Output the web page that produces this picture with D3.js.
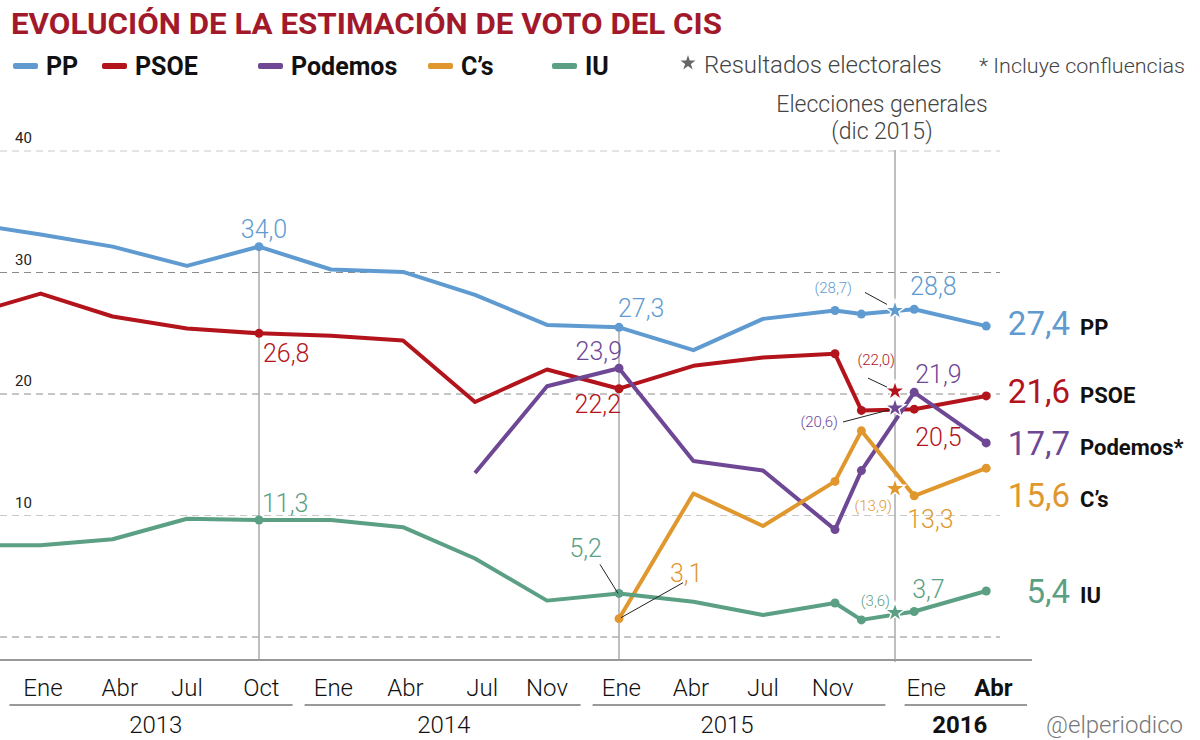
<!DOCTYPE html>
<html>
<head>
<meta charset="utf-8">
<script src="https://cdn.jsdelivr.net/npm/d3@7"></script>
<style>
  body { margin: 0; background: #fff; }
  svg { display: block; }
  text { font-family: Roboto, "Liberation Sans", Arial, sans-serif; }
</style>
</head>
<body>
<script>
// barómetros del CIS (mes contado desde enero 2013)
var periods = ["Oct 2012","Ene 2013","Abr 2013","Jul 2013","Oct 2013","Ene 2014","Abr 2014","Jul 2014",
               "Oct 2014","Ene 2015","Abr 2015","Jul 2015","Oct 2015","Nov 2015","Ene 2016","Abr 2016"];
var months  = [-3, -0.1, 2.9, 6, 9, 12, 15, 18, 21, 24, 27.1, 30, 33, 34.1, 36.3, 39.3];

var pp      = [35.9, 35.0, 34.0, 32.4, 34.0, 32.1, 31.9, 30.0, 27.5, 27.3, 25.4, 28.0, 28.7, 28.4, 28.8, 27.4];
var psoe    = [28.4, 30.1, 28.2, 27.2, 26.8, 26.6, 26.2, 21.1, 23.8, 22.2, 24.1, 24.8, 25.1, 20.4, 20.5, 21.6];
var podemos = [null, null, null, null, null, null, null, 15.2, 22.4, 23.9, 16.2, 15.4, 10.5, 15.4, 21.9, 17.7];
var cs      = [null, null, null, null, null, null, null, null, null, 3.1, 13.5, 10.8, 14.5, 18.7, 13.3, 15.6];
var iu      = [9.2, 9.2, 9.7, 11.4, 11.3, 11.3, 10.7, 8.1, 4.6, 5.2, 4.5, 3.4, 4.4, 3.0, 3.7, 5.4];

// elecciones generales 20-D
var electionMonth  = 35.5;
var electionValues = [28.7, 22.0, 20.6, 13.9, 3.6];

var names  = ["PP", "PSOE", "Podemos", "C\u2019s", "IU"];
var ends   = ["PP", "PSOE", "Podemos*", "C\u2019s", "IU"];
var colors = ["#5f9bd0", "#b3141c", "#6e4895", "#e0982e", "#5ba084"];
var series = [pp, psoe, podemos, cs, iu];

var tickLabels = ["Ene","Abr","Jul","Oct","Ene","Abr","Jul","Nov","Ene","Abr","Jul","Nov","Ene","Abr"];
var tickMonths = [0, 3.2, 6, 9.1, 12.1, 15.1, 18.3, 21, 24.1, 27, 30, 32.9, 36.8, 39.6];
var years      = ["2013", "2014", "2015", "2016"];
var yearFrom   = [-1.4, 10.9, 22.9, 35.9];
var yearTo     = [10.4, 22.4, 35.1, 41];
var yearMid    = [4.7, 16.7, 28.5, 38.2];
var gridTicks  = [40, 30, 20, 10, 0];

var W = 1200, H = 740;
var x = d3.scaleLinear().domain([0, 39]).range([43, 979]);
var y = d3.scaleLinear().domain([0, 40]).range([656, 174.4]);
var yGrid = d3.scaleLinear().domain([0, 40]).range([637, 151]);
var fmt = function(v) { return d3.format(".1f")(v).replace(".", ","); };

var svg = d3.select("body").append("svg").attr("width", W).attr("height", H);

// titulo
svg.append("text").attr("x", 11).attr("y", 34)
  .attr("font-family", "'Liberation Sans', Arial, sans-serif")
  .attr("font-weight", "bold").attr("font-size", 29)
  .attr("textLength", 711).attr("lengthAdjust", "spacingAndGlyphs")
  .style("fill", "#a3192c")
  .text("EVOLUCIÓN DE LA ESTIMACIÓN DE VOTO DEL CIS");

// leyenda
var legX = [13, 102, 258, 428, 552];
names.forEach(function(n, i) {
  svg.append("rect").attr("x", legX[i]).attr("y", 63).attr("width", 25).attr("height", 6)
    .attr("rx", 2).style("fill", colors[i]);
  svg.append("text").attr("x", legX[i] + 33).attr("y", 75)
    .attr("font-family", "'Liberation Sans', Arial, sans-serif")
    .attr("font-weight", "bold").attr("font-size", 25).style("fill", "#111").text(n);
});
svg.append("path").attr("d", d3.symbol(d3.symbolStar, 70)())
  .attr("transform", "translate(688,63)").style("fill", "#666");
svg.append("text").attr("x", 704).attr("y", 73).attr("font-size", 24).attr("font-weight", 300)
  .style("fill", "#444").text("Resultados electorales");
svg.append("text").attr("x", 979).attr("y", 73).attr("font-size", 21).attr("font-weight", 300)
  .attr("textLength", 206).attr("lengthAdjust", "spacingAndGlyphs")
  .style("fill", "#444").text("* Incluye confluencias");

// rejilla
svg.append("g").selectAll("line").data(gridTicks).join("line")
  .attr("x1", 0).attr("x2", 1000)
  .attr("y1", function(d) { return yGrid(d); }).attr("y2", function(d) { return yGrid(d); })
  .style("stroke", function(d) { return (d === 40 || d === 10) ? "#c8c8c8" : "#8a8a8a"; })
  .style("stroke-width", 1).style("stroke-dasharray", "7,5");
svg.append("g").selectAll("text").data(gridTicks.filter(function(d) { return d > 0; })).join("text")
  .attr("x", 15).attr("y", function(d) { return yGrid(d) - 8; })
  .attr("font-size", 15).style("fill", "#222").text(function(d) { return d; });

// lineas verticales de referencia
svg.append("line").attr("x1", x(9)).attr("x2", x(9)).attr("y1", y(pp[4])).attr("y2", 660)
  .style("stroke", "#aaa").style("stroke-width", 1.5);
svg.append("line").attr("x1", x(24)).attr("x2", x(24)).attr("y1", y(pp[9])).attr("y2", 660)
  .style("stroke", "#aaa").style("stroke-width", 1.5);
svg.append("line").attr("x1", x(electionMonth)).attr("x2", x(electionMonth)).attr("y1", 150).attr("y2", 662)
  .style("stroke", "#aaa").style("stroke-width", 1.5);
svg.append("text").attr("x", x(electionMonth) - 13).attr("y", 112).attr("text-anchor", "middle")
  .attr("font-size", 23).attr("font-weight", 300).style("fill", "#444").text("Elecciones generales");
svg.append("text").attr("x", x(electionMonth) - 13).attr("y", 139).attr("text-anchor", "middle")
  .attr("font-size", 23).attr("font-weight", 300).style("fill", "#444").text("(dic 2015)");

// eje x
svg.append("line").attr("x1", 0).attr("x2", 1032).attr("y1", 660).attr("y2", 660)
  .style("stroke", "#999").style("stroke-width", 2);
svg.append("g").selectAll("text").data(tickLabels).join("text")
  .attr("x", function(d, i) { return x(tickMonths[i]); }).attr("y", 696)
  .attr("text-anchor", "middle").attr("font-size", 24)
  .attr("font-weight", function(d, i) { return i === tickLabels.length - 1 ? "bold" : 300; })
  .style("fill", "#111").text(function(d) { return d; });
years.forEach(function(yr, i) {
  svg.append("line").attr("x1", x(yearFrom[i])).attr("x2", x(yearTo[i])).attr("y1", 705).attr("y2", 705)
    .style("stroke", "#999").style("stroke-width", 2);
  svg.append("text").attr("x", x(yearMid[i])).attr("y", 733).attr("text-anchor", "middle")
    .attr("font-size", 24).attr("font-weight", i === 3 ? "bold" : 300)
    .style("fill", "#111").text(yr);
});
svg.append("text").attr("x", 1183).attr("y", 733).attr("text-anchor", "end")
  .attr("font-size", 24).attr("font-weight", 300).style("fill", "#777").text("@elperiodico");

// lineas de las series
var line = d3.line()
  .defined(function(d) { return d.v !== null; })
  .x(function(d) { return x(d.m); })
  .y(function(d) { return y(d.v); });

var dotIdx = [4, 9, 12, 13, 14, 15];
series.forEach(function(vals, s) {
  var pts = vals.map(function(v, i) { return { m: months[i], v: v }; });
  svg.append("path").datum(pts).attr("d", line)
    .style("fill", "none").style("stroke", colors[s]).style("stroke-width", 4)
    .style("stroke-linejoin", "round");
  svg.append("g").selectAll("circle")
    .data(pts.filter(function(d, i) { return d.v !== null && dotIdx.indexOf(i) >= 0; }))
    .join("circle")
    .attr("cx", function(d) { return x(d.m); }).attr("cy", function(d) { return y(d.v); })
    .attr("r", 4.5).style("fill", colors[s]);
});

// resultados electorales (estrellas)
svg.append("g").selectAll("path").data(electionValues).join("path")
  .attr("d", d3.symbol(d3.symbolStar, 130)())
  .attr("transform", function(d) { return "translate(" + x(electionMonth) + "," + y(d) + ")"; })
  .style("fill", function(d, i) { return colors[i]; })
  .style("stroke", "#fff").style("stroke-width", 1.5);

// etiquetas: serie, indice (-1 = elecciones), desplazamiento, anclaje, tamaño, guia
var notes = [
  { s: 0, i: 4,  dx: 5,   dy: -9,  a: "middle", f: 25 },
  { s: 1, i: 4,  dx: 4,   dy: 29,  a: "start",  f: 25 },
  { s: 4, i: 4,  dx: 3,   dy: -8,  a: "start",  f: 25 },
  { s: 0, i: 9,  dx: -1,  dy: -10, a: "start",  f: 25 },
  { s: 2, i: 9,  dx: 3,   dy: -8,  a: "end",    f: 25 },
  { s: 1, i: 9,  dx: 2,   dy: 24,  a: "end",    f: 25 },
  { s: 4, i: 9,  dx: -17, dy: -36, a: "end",    f: 25, lead: [-19, -29, -1, 0] },
  { s: 3, i: 9,  dx: 51,  dy: -37, a: "start",  f: 25, lead: [64, -36, 2, -1] },
  { s: 0, i: 14, dx: -4,  dy: -14, a: "start",  f: 25 },
  { s: 2, i: 14, dx: 1,   dy: -9,  a: "start",  f: 25 },
  { s: 1, i: 14, dx: 1,   dy: 37,  a: "start",  f: 25 },
  { s: 3, i: 14, dx: -7,  dy: 32,  a: "start",  f: 25 },
  { s: 4, i: 14, dx: -2,  dy: -13, a: "start",  f: 25 },
  { s: 0, i: -1, dx: -43, dy: -17, a: "end",    f: 15, lead: [-30, -18, -8, -6] },
  { s: 1, i: -1, dx: 0,   dy: -26, a: "end",    f: 15, lead: [-27, -13, -8, -4] },
  { s: 2, i: -1, dx: -57, dy: 19,  a: "end",    f: 15, lead: [-52, 14, -6, 2] },
  { s: 3, i: -1, dx: -3,  dy: 22,  a: "end",    f: 15 },
  { s: 4, i: -1, dx: -5,  dy: -7,  a: "end",    f: 15 }
];
notes.forEach(function(n) {
  var m = n.i < 0 ? electionMonth : months[n.i];
  var v = n.i < 0 ? electionValues[n.s] : series[n.s][n.i];
  var px = x(m), py = y(v);
  var txt = n.i < 0 ? "(" + fmt(v) + ")" : fmt(v);
  if (n.lead) {
    svg.append("line").attr("x1", px + n.lead[0]).attr("y1", py + n.lead[1])
      .attr("x2", px + n.lead[2]).attr("y2", py + n.lead[3])
      .style("stroke", "#222").style("stroke-width", 1);
  }
  svg.append("text").attr("x", px + n.dx).attr("y", py + n.dy).attr("text-anchor", n.a)
    .attr("font-size", n.f).attr("font-weight", 300).style("fill", colors[n.s]).text(txt);
});

// valores finales (abril 2016)
var endBase = [335, 403, 455, 507, 603];
series.forEach(function(vals, s) {
  svg.append("text").attr("x", 1070).attr("y", endBase[s]).attr("text-anchor", "end")
    .attr("font-size", 33).attr("font-weight", 400).style("fill", colors[s])
    .text(fmt(vals[vals.length - 1]));
  svg.append("text").attr("x", 1080).attr("y", endBase[s])
    .attr("font-family", "'Liberation Sans', Arial, sans-serif")
    .attr("font-weight", "bold").attr("font-size", 22).style("fill", "#111").text(ends[s]);
});
</script>
</body>
</html>
